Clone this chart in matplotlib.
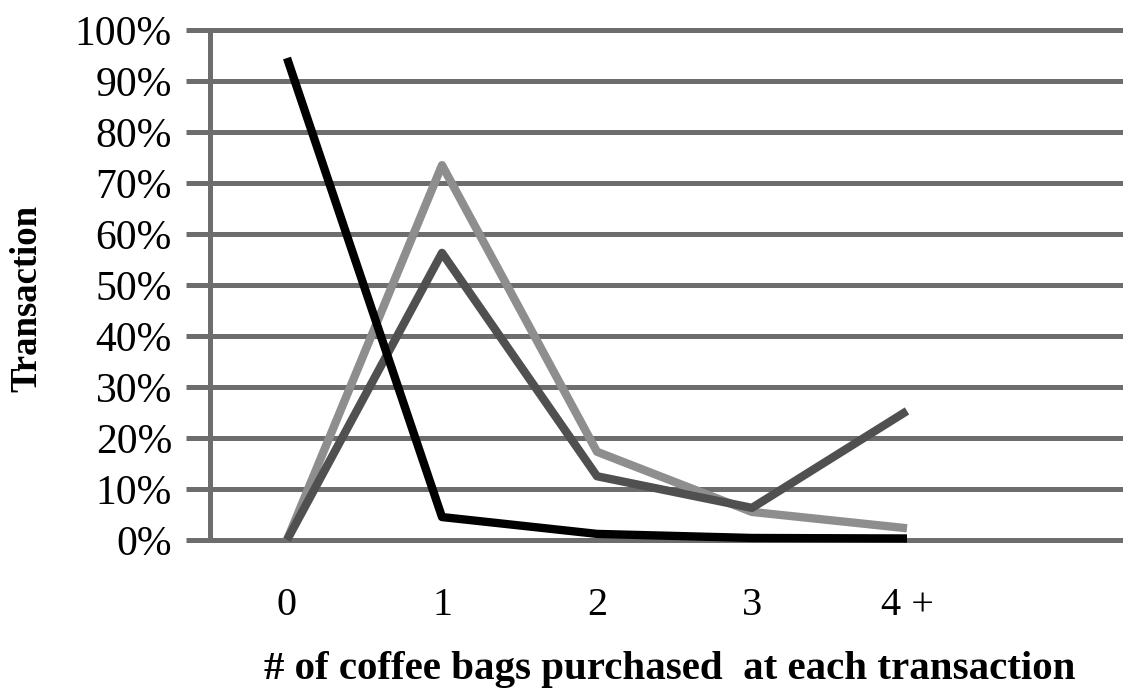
import matplotlib.pyplot as plt

# share of transactions by number of coffee bags bought
bags = ["0", "1", "2", "3", "4 +"]
series_black = [94.5, 4.5, 1.2, 0.4, 0.3]
series_dark = [0.0, 56.3, 12.5, 6.3, 25.3]
series_light = [0.0, 73.5, 17.3, 5.5, 2.3]
pct_ticks = list(range(0, 101, 10))

plt.rcParams['font.family'] = ['Liberation Serif', 'DejaVu Serif']

fig = plt.figure(figsize=(11.23, 6.88), dpi=100)
W, H = 1123, 688
ylo, yhi = -1.5, 101.5
xlo, xhi = -0.55, 5.4
# pixel layout of the plot area
left_px = 287 + xlo * 155
right_px = 287 + xhi * 155
top_px = 30 - (yhi - 100) * 5.1
bot_px = 540 - ylo * 5.1
ax = fig.add_axes([left_px / W, 1 - bot_px / H,
                   (right_px - left_px) / W, (bot_px - top_px) / H])

grid_c = '#6d6d6d'
x = list(range(len(bags)))
ax.plot(x, series_black, color='#000000', lw=6, solid_capstyle='butt', zorder=5)
ax.plot(x, series_dark, color='#505050', lw=6, solid_capstyle='butt', zorder=4)
ax.plot(x, series_light, color='#8e8e8e', lw=6, solid_capstyle='butt', zorder=3)

ax.set_xlim(xlo, xhi)
ax.set_ylim(ylo, yhi)
ax.set_yticks(pct_ticks)
ax.set_yticklabels([f"{v}%" for v in pct_ticks], fontsize=30)
ax.set_xticks(x)
ax.set_xticklabels(bags, fontsize=29)

for s in ax.spines.values():
    s.set_visible(False)
ax.grid(axis='y', color=grid_c, lw=3.6, zorder=1)
ax.set_axisbelow(True)
ax.axvline(-0.5, ymin=(0 - ylo) / (yhi - ylo), ymax=(100 - ylo) / (yhi - ylo),
           color=grid_c, lw=3.6, zorder=1)
ax.tick_params(axis='y', length=11.5, width=3.6, color=grid_c, pad=10)
ax.tick_params(axis='x', length=0, pad=28)

fig.text(670 / W, 1 - 670 / H, "# of coffee bags purchased  at each transaction",
         ha='center', va='center', fontsize=29.5, fontweight='bold')
fig.text(27 / W, 1 - 298 / H, "Transaction", rotation=90,
         ha='center', va='center', fontsize=26.5, fontweight='bold')

fig.savefig('out.png', dpi=100)
